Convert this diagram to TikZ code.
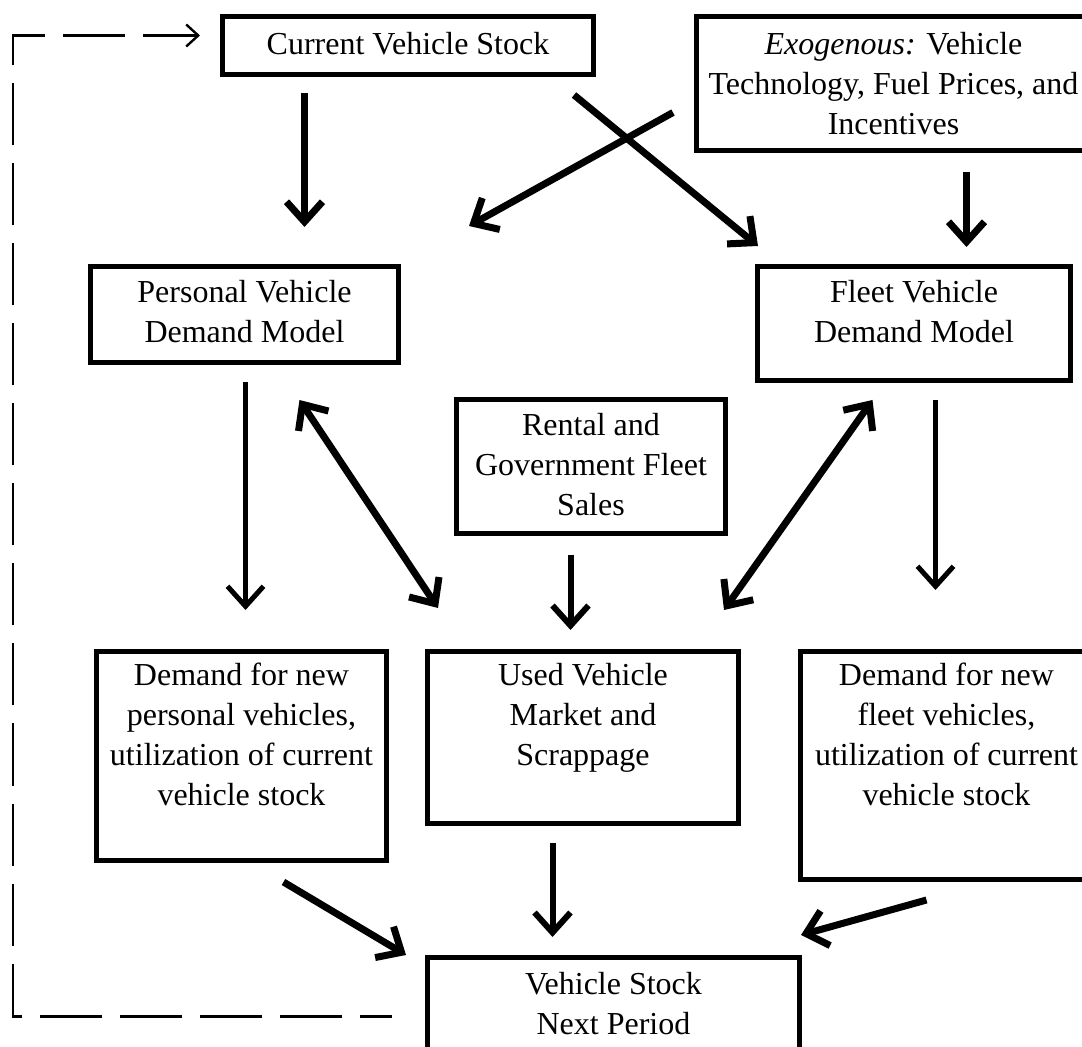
\documentclass[tikz,border=0pt]{standalone}
\usepackage{fontspec}
\setmainfont{Liberation Serif}
\usetikzlibrary{arrows.meta,calc}

\tikzset{
  box/.style={draw, line width=2.5pt, inner sep=0pt, align=center, anchor=north west,
    font=\fontsize{16}{20}\selectfont},
  flow/.style={line width=3.5pt, -{Straight Barb[length=10pt,width=18pt]}},
  slim/.style={flow, line width=2.5pt},
  both/.style={line width=3.5pt, {Straight Barb[length=10pt,width=18pt]}-{Straight Barb[length=10pt,width=18pt]}},
  feedback/.style={line width=1.2pt, dash pattern=on 31pt off 9pt, dash phase=15pt,
    -{Straight Barb[length=6pt,width=11pt]}}
}

\begin{document}
\begin{tikzpicture}[x=0.5pt, y=-0.5pt]
\useasboundingbox (0,0) rectangle (1082,1047);
\clip (0,0) rectangle (1082,1047);

% boxes
\node[box, minimum width=185.5pt, text height=19pt, text depth=10pt] (cvs) at (220,14) {Current Vehicle Stock};
\node[box, minimum width=197pt, text height=59pt, text depth=8pt] (exo) at (694,14)
  {\textit{Exogenous:} Vehicle\\Technology, Fuel Prices, and\\Incentives};
\node[box, minimum width=154pt, text height=38pt, text depth=10pt] (pvdm) at (88,264) {Personal Vehicle\\Demand Model};
\node[box, minimum width=156.5pt, text height=38pt, text depth=19pt] (fvdm) at (755,264) {Fleet Vehicle\\Demand Model};
\node[box, minimum width=134.5pt, text height=58pt, text depth=9pt] (rgfs) at (454,397) {Rental and\\Government Fleet\\Sales};
\node[box, minimum width=145pt, text height=77pt, text depth=27.5pt] (dnp) at (94,649)
  {Demand for new\\personal vehicles,\\utilization of current\\vehicle stock};
\node[box, minimum width=155.5pt, text height=57pt, text depth=29pt] (uvms) at (425,649) {Used Vehicle\\Market and\\Scrappage};
\node[box, minimum width=146pt, text height=77pt, text depth=37pt] (dnf) at (798,649)
  {Demand for new\\fleet vehicles,\\utilization of current\\vehicle stock};
\node[box, minimum width=186pt, text height=38.5pt, text depth=14pt] (vsnp) at (425,955) {Vehicle Stock\\Next Period};

% arrows
\draw[flow] ($(cvs.south)+(-103.5,16)$) -- ($(pvdm.north)+(60,-37)$);
\draw[flow] ($(exo.west)+(-21,29)$) -- ($(pvdm.north east)+(68,-38)$);
\draw[flow] ($(cvs.south east)+(-22,18)$) -- ($(fvdm.north west)+(3,-18)$);
\draw[flow] ($(exo.south)+(73,19)$) -- ($(fvdm.north)+(52.5,-17)$);
\draw[slim] ($(pvdm.south)+(1,17)$) -- ($(dnp.north)+(4,-39)$);
\draw[both] ($(pvdm.south)+(55,35)$) -- ($(uvms.north west)+(13,-41)$);
\draw[both] ($(fvdm.south)+(-41.5,17)$) -- ($(uvms.north east)+(-17,-39)$);
\draw[flow, line width=3pt] ($(rgfs.south)+(-20.5,19)$) -- ($(uvms.north)+(-12.5,-19)$);
\draw[slim] ($(fvdm.south)+(21.5,17)$) -- ($(dnf.north)+(-11,-59)$);
\draw[flow] ($(dnp.south)+(42,19)$) -- ($(vsnp.north west)+(-19,0)$);
\draw[flow, line width=3pt] ($(uvms.south)+(-30.5,17)$) -- ($(vsnp.north)+(-61,-18)$);
\draw[flow] ($(dnf.south)+(-20,18)$) -- ($(vsnp.north east)+(-1,-20)$);

% feedback to the current stock
\draw[feedback] ($(vsnp.west)+(-33,6.5)$) -- ++(-379,0) |- ($(cvs.west)+(-20,-10)$);
\end{tikzpicture}
\end{document}
